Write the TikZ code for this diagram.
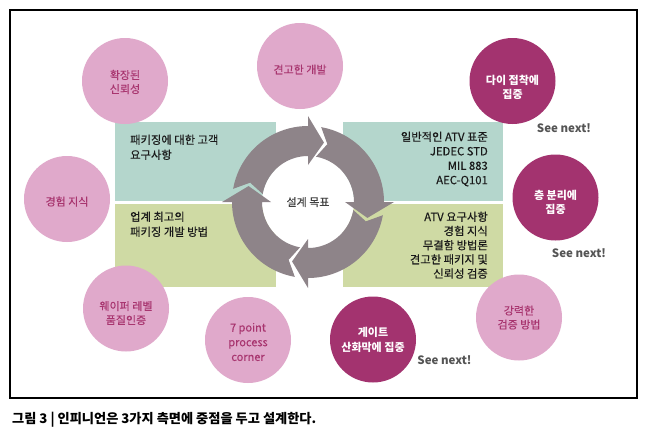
\documentclass[tikz,border=0pt]{standalone}
\usepackage{fontspec}
\setmainfont{Noto Sans CJK KR}
\newfontfamily\krmed{Noto Sans CJK KR}[FakeBold=0.3]
\usetikzlibrary{calc}
\definecolor{pinkfill}{HTML}{E0A9CB}
\definecolor{pinktext}{HTML}{A8356F}
\definecolor{darkmag}{HTML}{A3336F}
\definecolor{tealbox}{HTML}{B4D6CC}
\definecolor{greenbox}{HTML}{CFDAA4}
\definecolor{ringgray}{HTML}{8E8489}
\definecolor{seegray}{HTML}{555555}
\definecolor{txtdark}{HTML}{1A1A1A}
\def\rcx{308}
\def\rcy{202}
\newcommand\myringarrow[2]{%
  \fill[ringgray] plot[domain=#1:#2, samples=40] ({\rcx+76*cos(\x)},{\rcy+76*sin(\x)})
   -- ({\rcx+86*cos(#2)},{\rcy+86*sin(#2)})
   -- ({\rcx+61.5*cos(#2+15)},{\rcy+61.5*sin(#2+15)})
   -- ({\rcx+37*cos(#2)},{\rcy+37*sin(#2)})
   -- plot[domain=#2:#1, samples=40] ({\rcx+46*cos(\x)},{\rcy+46*sin(\x)})
   -- ({\rcx+61*cos(#1+8.5)},{\rcy+61*sin(#1+8.5)})
   -- cycle;}
\tikzset{
  pinkc/.style={circle, fill=pinkfill, minimum size=86pt, inner sep=0pt},
  darkc/.style={circle, fill=darkmag, minimum size=86pt, inner sep=0pt},
  pinklbl/.style={text=pinktext, align=center, inner sep=0pt, font=\krmed\fontsize{11}{14}\selectfont},
  darklbl/.style={text=white, align=center, inner sep=0pt, font=\bfseries\fontsize{11}{14.5}\selectfont},
  seenext/.style={text=seegray, inner sep=0pt, font=\bfseries\fontsize{11.5}{13}\selectfont},
  boxtxt/.style={text=txtdark, inner sep=0pt, font=\krmed\fontsize{11.3}{13}\selectfont},
  hub/.style={circle, fill=white, minimum size=92pt, inner sep=0pt, text=black!75, font=\krmed\fontsize{11}{13}\selectfont},
}
\begin{document}
\begin{tikzpicture}[x=1pt,y=-1pt]
\useasboundingbox (0,0) rectangle (652,437);
\fill[white] (0,0) rectangle (652,437);
% frame
\draw[line width=1.1pt] (10,10) rectangle (637,398);
% boxes
\fill[tealbox] (115,122) rectangle (276,200.5);
\fill[greenbox] (115,203.5) rectangle (276,287);
\fill[tealbox] (343,122) rectangle (503,200.5);
\fill[greenbox] (343,203.5) rectangle (503,287);
% box texts
\foreach \t [count=\i] in {패키징에 대한 고객, 요구사항}
  \node[boxtxt, anchor=base west] (lt\i) at (130,{144+15*(\i-1)}) {\t};
\foreach \t [count=\i] in {업계 최고의, 패키징 개발 방법}
  \node[boxtxt, anchor=base west] (lg\i) at (130,{221+15*(\i-1)}) {\t};
\foreach \t [count=\i] in {일반적인 ATV 표준, JEDEC STD, MIL 883, AEC-Q101}
  \node[boxtxt, anchor=base east] (rt\i) at (488,{141+14.4*(\i-1)}) {\t};
\foreach \t [count=\i] in {ATV 요구사항, 경험 지식, 무결함 방법론, 견고한 패키지 및, 신뢰성 검증}
  \node[boxtxt, anchor=base east] (rg\i) at (488,{221+14.2*(\i-1)}) {\t};
% hub and ring
\node[hub] (goal) at (\rcx,\rcy) {설계 목표};
\myringarrow{190}{270}
\myringarrow{280}{360}
\myringarrow{370}{450}
\myringarrow{100}{180}
% pink circles
\node[pinkc] (p1) at (125,81) {};
\node[pinklbl] (p1t) at (125,82) {확장된\\신뢰성};
\node[pinkc] (p2) at (300,66) {};
\node[pinklbl] (p2t) at (300,69.5) {견고한 개발};
\node[pinkc] (p3) at (67,199) {};
\node[pinklbl] (p3t) at (67,201.5) {경험 지식};
\node[pinkc] (p4) at (126,308.5) {};
\node[pinklbl] (p4t) at (126,313) {웨이퍼 레벨\\품질인증};
\node[pinkc] (p5) at (248,340) {};
\node[pinklbl, font=\krmed\fontsize{11}{14.7}\selectfont] (p5t) at (248,342) {7 point\\process\\corner};
\node[pinkc] (p6) at (519,317.5) {};
\node[pinklbl] (p6t) at (519,317.5) {강력한\\검증 방법};
% dark circles
\node[darkc] (d1) at (512.5,81) {};
\node[darklbl] (d1t) at (512.5,87.5) {다이 접착에\\집중};
\node[darkc] (d2) at (555.5,197.5) {};
\node[darklbl] (d2t) at (555.5,202.5) {층 분리에\\집중};
\node[darkc] (d3) at (373,339.5) {};
\node[darklbl] (d3t) at (373,340) {게이트\\산화막에 집중};
% see next
\node[seenext] (s1) at (564,128) {See next!};
\node[seenext] (s2) at (579,253) {See next!};
\node[seenext] (s3) at (444.5,360) {See next!};
% caption
\node[anchor=base west, inner sep=0pt, font=\bfseries\fontsize{13.2}{15}\selectfont] (cap) at (12,423) {그림 3 | 인피니언은 3가지 측면에 중점을 두고 설계한다.};
\end{tikzpicture}
\end{document}
